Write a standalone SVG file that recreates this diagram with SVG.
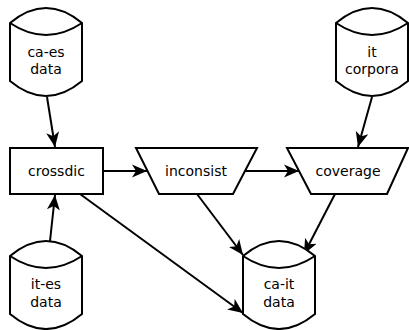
<svg xmlns="http://www.w3.org/2000/svg" width="409" height="330" viewBox="0 0 409 330">
  <style>
    .shape { fill: #fff; stroke: #000; stroke-width: 2; stroke-linejoin: miter; }
    .edge { fill: none; stroke: #000; stroke-width: 2; marker-end: url(#arrow); }
    text { font-family: "DejaVu Sans", "Liberation Sans", sans-serif; font-size: 14px; fill: #000; text-anchor: middle; }
  </style>
  <defs>
    <marker id="arrow" markerUnits="userSpaceOnUse" markerWidth="16" markerHeight="14" viewBox="-15 -7 16 14" refX="0" refY="0" orient="auto">
      <path d="M0,0 L-15,-6.5 L-11,0 L-15,6.5 Z" fill="#000"/>
    </marker>
    <!-- data store: 72 wide, wavy top lid and curved bottom -->
    <g id="store">
      <path class="shape" d="M0,15 Q36,-15 72,15 L72,73 Q36,103 0,73 Z"/>
      <path class="shape" d="M0,15 Q36,39 72,15" fill="none"/>
    </g>
  </defs>

  <g id="edges">
    <line class="edge" x1="47" y1="97" x2="55" y2="147"/>
    <line class="edge" x1="50" y1="241" x2="55" y2="195"/>
    <line class="edge" x1="372" y1="97" x2="358" y2="147"/>
    <line class="edge" x1="103" y1="171" x2="147" y2="171"/>
    <line class="edge" x1="245" y1="171" x2="299" y2="171"/>
    <line class="edge" x1="197" y1="194" x2="243" y2="255"/>
    <line class="edge" x1="335" y1="194" x2="304" y2="254"/>
    <line class="edge" x1="80" y1="194" x2="243" y2="313"/>
  </g>

  <g id="ca-es-data">
    <use href="#store" x="10" y="8"/>
    <text x="46" y="57">ca-es</text>
    <text x="46" y="74">data</text>
  </g>

  <g id="it-corpora">
    <use href="#store" x="336" y="8"/>
    <text x="372" y="57">it</text>
    <text x="372" y="74">corpora</text>
  </g>

  <g id="crossdic">
    <rect class="shape" x="10" y="148" width="93" height="46"/>
    <text x="56.5" y="176">crossdic</text>
  </g>

  <g id="inconsist">
    <path class="shape" d="M136,148 L257,148 L233,194 L159,194 Z"/>
    <text x="196" y="176">inconsist</text>
  </g>

  <g id="coverage">
    <path class="shape" d="M287,148 L408,148 L387,194 L311,194 Z"/>
    <text x="348" y="176">coverage</text>
  </g>

  <g id="it-es-data">
    <use href="#store" x="10" y="241"/>
    <text x="46" y="289">it-es</text>
    <text x="46" y="307">data</text>
  </g>

  <g id="ca-it-data">
    <use href="#store" x="243" y="241"/>
    <text x="279" y="289">ca-it</text>
    <text x="279" y="307">data</text>
  </g>
</svg>
